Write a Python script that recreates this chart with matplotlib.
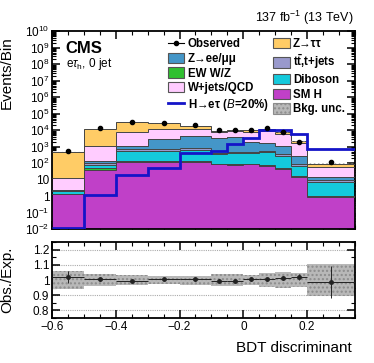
import numpy as np
import matplotlib
matplotlib.use("Agg")
import matplotlib.pyplot as plt
from matplotlib.lines import Line2D
from matplotlib.patches import Patch
from matplotlib.ticker import FixedLocator, FuncFormatter, MultipleLocator, LogLocator, NullFormatter

plt.rcParams["font.family"] = ["Liberation Sans", "DejaVu Sans"]
plt.rcParams["mathtext.fontset"] = "custom"
plt.rcParams["mathtext.rm"] = "Liberation Sans"
plt.rcParams["mathtext.it"] = "Liberation Sans:italic"
plt.rcParams["mathtext.bf"] = "Liberation Sans:bold"

# BDT bin edges
edges = [-0.6, -0.5, -0.4, -0.3, -0.2, -0.1, -0.05, 0.0, 0.05, 0.1, 0.15, 0.2, 0.35]

# background yields per bin
smh    = [1.26, 38, 110, 120, 110, 83, 79, 83, 69, 44, 14, 0.91]
ewk    = [0.15, 12, 22, 15, 16, 10, 10, 8, 10, 8, 2, 0.14]
dibos  = [0.6, 26, 430, 427, 505, 246, 309, 307, 368, 217, 53, 6.4]
ttbar  = [0.09, 19, 146, 146, 200, 88, 81, 103, 78, 70, 20, 1.5]
zll    = [0.15, 37, 364, 2046, 3530, 2880, 3500, 1450, 1250, 733, 186, 4.6]
wjets  = [10.6, 990, 6170, 8730, 7115, 4630, 4340, 5990, 7340, 4680, 1274, 46.5]
ztt    = [466, 10360, 22260, 14220, 6720, 1180, 1230, 2060, 2360, 1490, 589, 27]

observed = [525, 13500, 30200, 25700, 20000, 10000, 10000, 10500, 12600, 7800, 1950, 110]
signal   = [0.011, 1.2, 18, 50, 400, 520, 1400, 3300, 10000, 10000, 5500, 750]

# ratio panel
ratio     = [1.02, 1.006, 0.995, 1.006, 1.005, 0.997, 0.993, 1.006, 1.005, 1.015, 1.022, 0.985]
ratio_err = [0.04, 0.01, 0.008, 0.008, 0.008, 0.01, 0.01, 0.01, 0.01, 0.012, 0.02, 0.105]
bkg_unc   = [0.06, 0.04, 0.033, 0.025, 0.03, 0.04, 0.04, 0.035, 0.045, 0.05, 0.045, 0.105]

components = [
    (smh, "#C040C8"),
    (ewk, "#30C030"),
    (dibos, "#14CADC"),
    (ttbar, "#9999CC"),
    (zll, "#4496C8"),
    (wjets, "#FFCCFF"),
    (ztt, "#FFCC66"),
]

edges = np.array(edges)
centers = 0.5 * (edges[1:] + edges[:-1])
halfw = 0.5 * (edges[1:] - edges[:-1])

fig = plt.figure(figsize=(3.74, 3.63), dpi=100)
ax = fig.add_axes([0.139, 0.369, 0.810, 0.545])
rax = fig.add_axes([0.139, 0.124, 0.810, 0.209], sharex=ax)

# stacked backgrounds
base = np.zeros(len(centers))
for vals, col in components:
    top = base + np.array(vals)
    ax.stairs(top, edges, baseline=base, fill=True, color=col, zorder=2)
    ax.stairs(top, edges, baseline=None, color="#444444", lw=0.7, zorder=3)
    base = top
total = base

# bkg uncertainty in main panel
unc = np.array(bkg_unc)
ax.stairs(total * (1 + unc), edges, baseline=total * (1 - unc), fill=True,
          facecolor="none", edgecolor="#888888", hatch="....", lw=0, zorder=3)

# signal
ax.stairs(signal, edges, baseline=None, color="#1414C8", lw=2.0, zorder=4)

# observed
ax.errorbar(centers, observed, yerr=np.sqrt(observed), fmt="o", color="black",
            ms=3, lw=0.8, zorder=5)

ax.set_yscale("log")
ax.set_ylim(1e-2, 1e10)
ax.set_xlim(-0.6, 0.35)
ax.yaxis.set_major_locator(LogLocator(base=10, numticks=20))
ax.yaxis.set_minor_locator(LogLocator(base=10, subs=np.arange(2, 10), numticks=20))
ax.yaxis.set_minor_formatter(NullFormatter())


def logfmt(v, pos):
    e = int(round(np.log10(v)))
    if e == 0:
        return "1"
    if e == 1:
        return "10"
    return r"$10^{%d}$" % e


ax.yaxis.set_major_formatter(FuncFormatter(logfmt))
ax.set_ylabel("Events/Bin", fontsize=11)
ax.yaxis.set_label_coords(-0.125, 0.79)
ax.tick_params(labelbottom=False)

# ratio panel
for y in [0.8, 0.9, 1.0, 1.1, 1.2]:
    rax.axhline(y, color="#aaaaaa", ls=(0, (1, 1)), lw=0.8, zorder=1)
lo = 1 - unc
hi = 1 + unc
rax.stairs(hi, edges, baseline=lo, fill=True, facecolor="#b8b8b8",
           edgecolor="#8c8c8c", hatch="....", lw=0, zorder=2)
rax.errorbar(centers, ratio, xerr=halfw, yerr=ratio_err, fmt="o", color="#222222",
             ms=2.5, lw=0.7, zorder=4)
rax.set_ylim(0.75, 1.25)
rax.yaxis.set_major_locator(FixedLocator([0.8, 0.9, 1.0, 1.1, 1.2]))
rax.yaxis.set_minor_locator(MultipleLocator(0.05))
rax.yaxis.set_major_formatter(FuncFormatter(lambda v, p: "%g" % v))
rax.set_ylabel("Obs./Exp.", fontsize=11)
rax.yaxis.set_label_coords(-0.125, 0.5)
rax.xaxis.set_major_locator(MultipleLocator(0.2))
rax.xaxis.set_minor_locator(MultipleLocator(0.05))
rax.xaxis.set_major_formatter(FuncFormatter(lambda v, p: ("%g" % round(v, 2)).replace("-", "\u2212")))
rax.set_xlabel("BDT discriminant", fontsize=11, loc="right")
rax.xaxis.set_label_coords(0.99, -0.30)

for a in (ax, rax):
    a.tick_params(which="both", direction="in", top=True, right=True, labelsize=8.5, pad=2)
    a.tick_params(which="major", length=6, width=1.1)
    a.tick_params(which="minor", length=3, width=0.8)
    for s in a.spines.values():
        s.set_linewidth(1.3)

# texts
fig.text(0.945, 0.952, r"137 fb$^{-1}$ (13 TeV)", ha="right", va="center", fontsize=9)
ax.text(0.045, 0.915, "CMS", transform=ax.transAxes, fontsize=12, fontweight="bold",
        ha="left", va="center")
ax.text(0.045, 0.835, r"e$\tau_{\rm h}$, 0 jet", transform=ax.transAxes, fontsize=8.5,
        ha="left", va="center")

# legend
def box(col, **kw):
    return Patch(facecolor=col, edgecolor="#555555", lw=0.8, **kw)


h_obs = Line2D([], [], color="black", marker="o", ms=3, lw=0.8)
h_sig = Line2D([], [], color="#1414C8", lw=2.0)
handles = [h_obs, box("#4496C8"), box("#30C030"), box("#FFCCFF"), h_sig,
           box("#FFCC66"), box("#9999CC"), box("#14CADC"), box("#C040C8"),
           Patch(facecolor="#b8b8b8", edgecolor="#8c8c8c", hatch="....", lw=0.8)]
labels = ["Observed", "Z\u2192ee/\u03bc\u03bc", "EW W/Z", "W+jets/QCD",
          "H\u2192e\u03c4 ($\\mathit{B}$=20%)",
          "Z\u2192\u03c4\u03c4", r"t$\mathbf{\bar{t}}$,t+jets", "Diboson", "SM H", "Bkg. unc."]
leg = ax.legend(handles, labels, ncol=2, loc="upper right", bbox_to_anchor=(0.99, 1.0),
                frameon=False, prop={"size": 8.3, "weight": "bold"},
                handlelength=1.4, handleheight=1.0, handletextpad=0.3,
                columnspacing=0.4, labelspacing=0.22, borderaxespad=0.2)

fig.savefig("out.png", dpi=100)
